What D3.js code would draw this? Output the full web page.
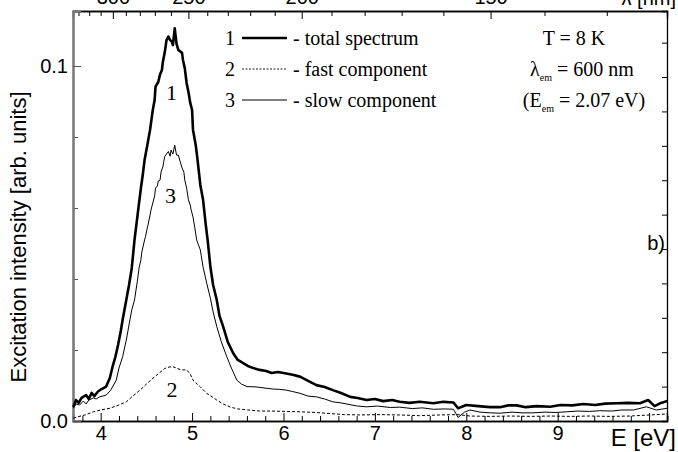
<!DOCTYPE html>
<html lang="en">
<head>
<meta charset="UTF-8">
<title>Excitation spectrum</title>
<script src="https://d3js.org/d3.v7.min.js"></script>
<style>
    body { margin: 0; background: #fff; }
    svg { display: block; }
    .sans { font-family: "Liberation Sans", Arial, sans-serif; }
    .serif { font-family: "Liberation Serif", "Times New Roman", serif; }
</style>
</head>
<body>
<div id="chart"></div>
<script>
// ---- data ----
// curve 1: total spectrum
var energyTotal = [3.70,3.73,3.76,3.79,3.84,3.87,3.90,3.93,3.97,4.01,4.06,4.10,4.13,4.16,4.19,4.22,4.24,4.28,4.31,4.34,4.37,4.39,4.41,4.44,4.46,4.48,4.51,4.54,4.57,4.59,4.60,4.63,4.65,4.67,4.68,4.70,4.72,4.74,4.76,4.78,4.79,4.81,4.83,4.85,4.89,4.90,4.92,4.94,4.96,4.98,5.00,5.01,5.04,5.06,5.09,5.12,5.15,5.17,5.20,5.23,5.27,5.30,5.34,5.39,5.45,5.50,5.56,5.61,5.67,5.74,5.81,5.87,5.94,6.03,6.10,6.18,6.27,6.36,6.45,6.54,6.63,6.73,6.81,6.91,7.00,7.09,7.19,7.27,7.38,7.49,7.64,7.75,7.86,7.91,8.00,8.13,8.26,8.37,8.46,8.55,8.65,8.77,8.92,9.03,9.16,9.28,9.41,9.52,9.65,9.77,9.90,9.99,10.06,10.13,10.20];
var total = [0.0039,0.0059,0.0051,0.0065,0.0073,0.0062,0.0079,0.0070,0.0083,0.0090,0.0097,0.0121,0.0153,0.0180,0.0214,0.0254,0.0285,0.0341,0.0383,0.0431,0.0510,0.0552,0.0594,0.0656,0.0693,0.0735,0.0777,0.0820,0.0876,0.0904,0.0942,0.0955,0.0977,0.0989,0.1011,0.1037,0.1073,0.1083,0.1073,0.1068,0.1059,0.1106,0.1062,0.1045,0.1037,0.1017,0.0994,0.0952,0.0927,0.0896,0.0876,0.0820,0.0777,0.0735,0.0665,0.0623,0.0552,0.0510,0.0435,0.0383,0.0341,0.0296,0.0266,0.0223,0.0191,0.0172,0.0163,0.0155,0.0149,0.0144,0.0141,0.0135,0.0138,0.0134,0.0130,0.0125,0.0113,0.0101,0.0096,0.0087,0.0079,0.0068,0.0065,0.0059,0.0062,0.0056,0.0059,0.0054,0.0051,0.0054,0.0050,0.0054,0.0052,0.0036,0.0045,0.0042,0.0039,0.0039,0.0044,0.0044,0.0039,0.0042,0.0040,0.0045,0.0044,0.0048,0.0045,0.0049,0.0050,0.0051,0.0050,0.0059,0.0042,0.0051,0.0056];

// curve 2: fast component
var energyFast = [3.70,3.75,3.83,3.92,4.00,4.10,4.19,4.28,4.35,4.43,4.50,4.57,4.64,4.70,4.75,4.79,4.83,4.88,4.94,4.98,5.01,5.09,5.16,5.22,5.27,5.34,5.42,5.50,5.61,5.74,5.87,6.02,6.18,6.35,6.51,6.67,6.84,7.06,7.27,7.49,7.71,7.91,8.04,8.26,8.48,8.70,8.92,9.14,9.35,9.57,9.79,10.01,10.20];
var fast = [0.0008,0.0012,0.0017,0.0026,0.0031,0.0036,0.0044,0.0054,0.0070,0.0087,0.0104,0.0120,0.0135,0.0148,0.0152,0.0153,0.0149,0.0144,0.0144,0.0132,0.0115,0.0096,0.0078,0.0068,0.0059,0.0048,0.0039,0.0034,0.0031,0.0028,0.0028,0.0027,0.0026,0.0024,0.0021,0.0018,0.0017,0.0018,0.0017,0.0015,0.0017,0.0018,0.0014,0.0013,0.0014,0.0013,0.0014,0.0013,0.0014,0.0013,0.0014,0.0017,0.0020];

// curve 3: slow component
var energySlow = [3.70,3.73,3.77,3.81,3.84,3.87,3.92,3.95,3.99,4.06,4.11,4.17,4.20,4.24,4.28,4.32,4.34,4.37,4.40,4.42,4.44,4.45,4.48,4.49,4.51,4.52,4.54,4.55,4.57,4.59,4.60,4.62,4.63,4.65,4.66,4.68,4.69,4.70,4.72,4.74,4.76,4.77,4.79,4.81,4.83,4.85,4.87,4.89,4.91,4.92,4.94,4.96,4.98,4.99,5.01,5.03,5.05,5.07,5.09,5.12,5.16,5.20,5.23,5.27,5.32,5.38,5.43,5.49,5.54,5.60,5.70,5.82,5.89,5.96,6.03,6.10,6.18,6.27,6.36,6.45,6.54,6.63,6.73,6.81,6.91,7.03,7.17,7.27,7.41,7.52,7.64,7.77,7.86,7.91,7.98,8.04,8.15,8.26,8.37,8.50,8.61,8.73,8.86,8.98,9.10,9.22,9.35,9.46,9.59,9.70,9.83,9.97,10.08,10.20];
var slow = [0.0036,0.0048,0.0045,0.0056,0.0048,0.0059,0.0065,0.0062,0.0068,0.0073,0.0087,0.0115,0.0149,0.0181,0.0228,0.0285,0.0313,0.0341,0.0392,0.0431,0.0454,0.0476,0.0510,0.0519,0.0544,0.0555,0.0580,0.0594,0.0614,0.0634,0.0656,0.0662,0.0676,0.0679,0.0701,0.0716,0.0730,0.0745,0.0752,0.0759,0.0746,0.0763,0.0752,0.0777,0.0749,0.0749,0.0730,0.0713,0.0701,0.0679,0.0656,0.0623,0.0608,0.0594,0.0575,0.0544,0.0510,0.0496,0.0482,0.0434,0.0388,0.0346,0.0307,0.0266,0.0223,0.0181,0.0149,0.0115,0.0104,0.0097,0.0096,0.0092,0.0090,0.0089,0.0087,0.0083,0.0078,0.0070,0.0068,0.0062,0.0054,0.0051,0.0046,0.0042,0.0040,0.0042,0.0038,0.0039,0.0035,0.0037,0.0033,0.0034,0.0033,0.0010,0.0025,0.0031,0.0025,0.0023,0.0022,0.0025,0.0023,0.0023,0.0025,0.0024,0.0026,0.0028,0.0027,0.0029,0.0028,0.0031,0.0031,0.0040,0.0031,0.0036];

// axis ticks
var energyMajor = [4, 5, 6, 7, 8, 9, 10];
var energyLabels = ["4", "5", "6", "7", "8", "9", ""];
var wavelengthMajor = [150, 200, 250, 300];
var intensityMajor = [0, 0.1];

// legend / annotation text
var legendNames = ["- total spectrum", "- fast component", "- slow component"];

// ---- layout ----
var W = 678, H = 452;
var mLeft = 73, mRight = 667, mTop = 11, mBottom = 421;

var svg = d3.select("#chart").append("svg")
    .attr("width", W)
    .attr("height", H);

var x = d3.scaleLinear().domain([3.697, 10.196]).range([mLeft, mRight]);
var y = d3.scaleLinear().domain([0, 0.11549]).range([mBottom, mTop]);
// the right-hand frame carries its own slightly different tick spacing
var yRight = d3.scaleLinear().domain([0, 0.1192]).range([mBottom, mTop]);

var minorE = d3.range(3.8, 10.21, 0.2).filter(function (e) {
    return Math.abs(e - Math.round(e)) > 0.01;
});
var minorWl = d3.range(130, 331, 10).filter(function (l) { return l % 50 !== 0; });
var toE = function (l) { return 1239.84 / l; };

// bottom axis (ticks inward)
svg.append("g")
    .attr("transform", "translate(0," + mBottom + ")")
    .call(d3.axisBottom(x).tickValues(minorE).tickSize(-5).tickFormat(""));
svg.append("g")
    .attr("class", "sans")
    .attr("transform", "translate(0," + mBottom + ")")
    .call(d3.axisBottom(x).tickValues(energyMajor).tickSize(-8).tickPadding(5)
        .tickFormat(function (d, i) { return energyLabels[i]; }));

// top axis in wavelength (ticks inward), labels cut by the page edge as in the original
svg.append("g")
    .attr("transform", "translate(0," + mTop + ")")
    .call(d3.axisTop(x).tickValues(minorWl.map(toE)).tickSize(-5).tickFormat(""));
svg.append("g")
    .attr("class", "sans")
    .attr("transform", "translate(0," + mTop + ")")
    .call(d3.axisTop(x).tickValues(wavelengthMajor.map(toE)).tickSize(-8).tickPadding(7)
        .tickFormat(function (d, i) { return wavelengthMajor[i]; }));

// left axis
svg.append("g")
    .attr("class", "yaxis")
    .attr("transform", "translate(" + mLeft + ",0)")
    .call(d3.axisLeft(y).tickValues([0.02, 0.04, 0.06, 0.08]).tickSize(-5).tickFormat(""));
svg.append("g")
    .attr("class", "sans yaxis")
    .attr("transform", "translate(" + mLeft + ",0)")
    .call(d3.axisLeft(y).tickValues(intensityMajor).tickSize(-8).tickPadding(5)
        .tickFormat(d3.format(".1f")));

// right axis
svg.append("g")
    .attr("transform", "translate(" + mRight + ",0)")
    .call(d3.axisRight(yRight).tickValues(d3.range(0.01, 0.115, 0.01)).tickSize(-5).tickFormat(""));

svg.selectAll(".domain").attr("stroke", "#000").attr("stroke-width", 1.3);
svg.selectAll(".tick line").attr("stroke", "#000");
svg.selectAll(".yaxis .domain").attr("stroke", "#777").attr("stroke-width", 2);
svg.selectAll(".yaxis .tick line").attr("stroke", "#555");
svg.selectAll(".sans text").attr("font-size", 20).attr("fill", "#000")
    .attr("font-family", "Liberation Sans, Arial, sans-serif");

// ---- curves ----
var line = d3.line().x(function (d) { return x(d[0]); }).y(function (d) { return y(d[1]); });
var zip = function (a, b) { return a.map(function (v, i) { return [v, b[i]]; }); };

svg.append("path").datum(zip(energySlow, slow))
    .attr("d", line).attr("fill", "none").attr("stroke", "#000").attr("stroke-width", 1);
svg.append("path").datum(zip(energyFast, fast))
    .attr("d", line).attr("fill", "none").attr("stroke", "#000").attr("stroke-width", 1)
    .attr("stroke-dasharray", "3,2");
svg.append("path").datum(zip(energyTotal, total))
    .attr("d", line).attr("fill", "none").attr("stroke", "#000").attr("stroke-width", 2.6)
    .attr("stroke-linejoin", "round");

// curve numbers
var curveLabels = [["1", 171.5, 100], ["3", 170.5, 203], ["2", 172, 397]];
svg.selectAll(".clab").data(curveLabels).enter().append("text")
    .attr("class", "serif")
    .attr("x", function (d) { return d[1]; })
    .attr("y", function (d) { return d[2]; })
    .attr("text-anchor", "middle")
    .attr("font-size", 22)
    .text(function (d) { return d[0]; });

// ---- legend ----
var rows = [45, 76, 107];
var legendStyle = [
    { w: 2.6, dash: null },
    { w: 0.9, dash: "2,1.5" },
    { w: 1, dash: null }
];
legendNames.forEach(function (name, i) {
    svg.append("text").attr("class", "serif")
        .attr("x", 230).attr("y", rows[i]).attr("text-anchor", "middle")
        .attr("font-size", 20).text(String(i + 1));
    svg.append("line")
        .attr("x1", 242).attr("x2", 287)
        .attr("y1", rows[i] - 7).attr("y2", rows[i] - 7)
        .attr("stroke", "#000").attr("stroke-width", legendStyle[i].w)
        .attr("stroke-dasharray", legendStyle[i].dash);
    svg.append("text").attr("class", "serif")
        .attr("x", 293).attr("y", rows[i])
        .attr("font-size", 20).text(name);
});

// conditions
svg.append("text").attr("class", "serif").attr("x", 574).attr("y", rows[0])
    .attr("text-anchor", "middle").attr("font-size", 20).text("T = 8 K");
var t2 = svg.append("text").attr("class", "serif").attr("x", 582).attr("y", rows[1])
    .attr("text-anchor", "middle").attr("font-size", 20);
t2.append("tspan").text("λ");
t2.append("tspan").attr("font-size", 10).attr("dy", 5).text("em");
t2.append("tspan").attr("dy", -5).text(" = 600 nm");
var t3 = svg.append("text").attr("class", "serif").attr("x", 584).attr("y", rows[2])
    .attr("text-anchor", "middle").attr("font-size", 20);
t3.append("tspan").text("(E");
t3.append("tspan").attr("font-size", 10).attr("dy", 5).text("em");
t3.append("tspan").attr("dy", -5).text(" = 2.07 eV)");

// panel mark
svg.append("text").attr("class", "sans").attr("x", 665).attr("y", 250)
    .attr("text-anchor", "end").attr("font-size", 20).text("b)");

// axis titles
svg.append("text").attr("class", "sans")
    .attr("transform", "translate(26,237) rotate(-90)")
    .attr("text-anchor", "middle").attr("font-size", 22)
    .text("Excitation intensity [arb. units]");
svg.append("text").attr("class", "sans")
    .attr("x", 676).attr("y", 446).attr("text-anchor", "end")
    .attr("font-size", 24).text("E [eV]");
svg.append("text").attr("class", "sans")
    .attr("x", 676).attr("y", 5).attr("text-anchor", "end")
    .attr("font-size", 20).text("λ [nm]");
</script>
</body>
</html>
